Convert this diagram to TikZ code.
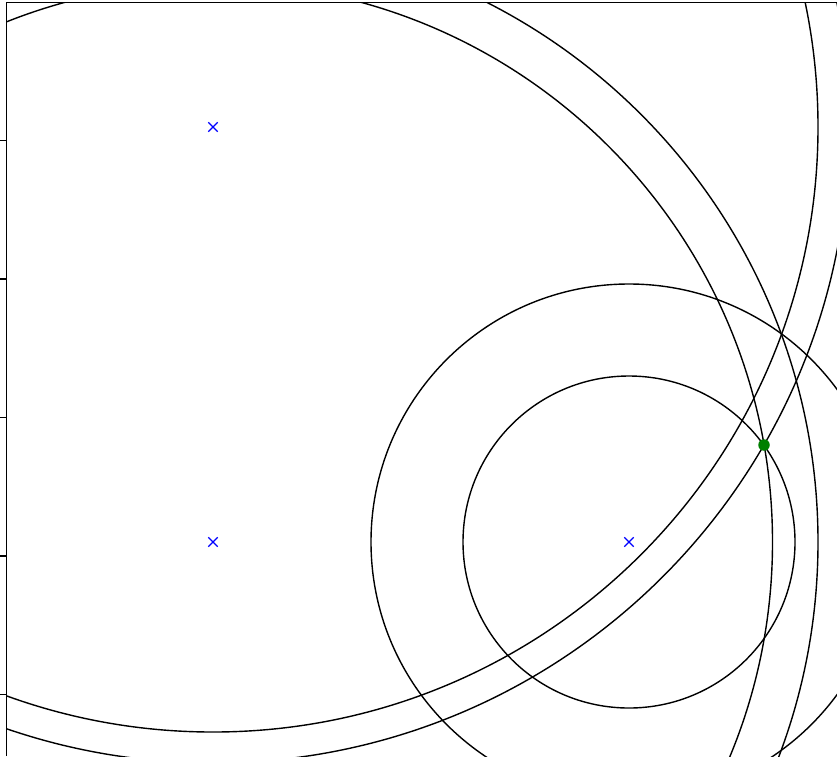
\documentclass[tikz,border=0pt]{standalone}
\usetikzlibrary{shapes.misc}

\begin{document}
\begin{tikzpicture}[
    x=1pt, y=-1pt,
    ring/.style={draw=black, line width=1.4pt},
    spine/.style={draw=black, line width=1.4pt},
    tickmark/.style={draw=black, line width=1.2pt},
    beacon/.style={draw=blue, cross out, line width=1.3pt, minimum size=8pt, inner sep=0pt},
    estimate/.style={circle, fill=green!50!black, inner sep=0pt, minimum size=11.5pt}
]
\useasboundingbox (0,0) rectangle (837,756);

% Anchors
\coordinate (A) at (213,127);
\coordinate (B) at (213,542);
\coordinate (C) at (629,542);
\coordinate (corner) at (6.7,2.7);

% Range circles, clipped to the axes
\begin{scope}
\clip (corner) rectangle (837,756);
\foreach \c/\r in {A/605,A/636,B/559.5,B/605,C/166,C/258}
    \draw[ring] (\c) circle[radius=\r pt];
\end{scope}

% Axes
\draw[spine] (6.7,756) -- (corner) -- (837,2.7);
\foreach \t in {140.5,279,417.5,556,694.5}
    \draw[tickmark] (0,\t) -- (6.7,\t);

% Markers
\node[beacon] (ma) at (A) {};
\node[beacon] (mb) at (B) {};
\node[beacon] (mc) at (C) {};
\node[estimate] (est) at (764,445) {};

\end{tikzpicture}
\end{document}
